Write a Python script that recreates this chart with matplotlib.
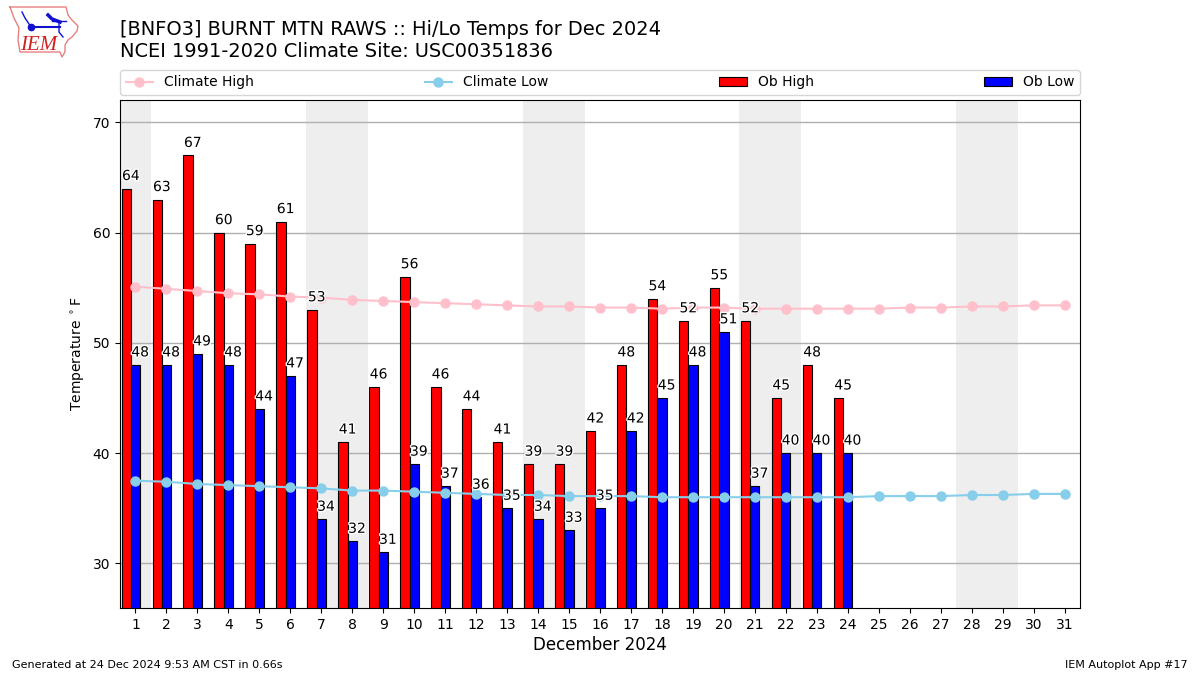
import matplotlib
matplotlib.use("Agg")
import matplotlib.pyplot as plt
import matplotlib.patheffects as pe
import numpy as np

days = list(range(1, 32))
climate_high = [55.1, 54.9, 54.7, 54.5, 54.4, 54.2, 54.1, 53.9, 53.8, 53.7, 53.6, 53.5, 53.4, 53.3, 53.3, 53.2,
                53.2, 53.1, 53.2, 53.2, 53.1, 53.1, 53.1, 53.1, 53.1, 53.2, 53.2, 53.3, 53.3, 53.4, 53.4]
climate_low = [37.5, 37.4, 37.2, 37.1, 37.0, 36.9, 36.8, 36.6, 36.6, 36.5, 36.4, 36.3, 36.2, 36.2, 36.1, 36.1,
               36.1, 36.0, 36.0, 36.0, 36.0, 36.0, 36.0, 36.0, 36.1, 36.1, 36.1, 36.2, 36.2, 36.3, 36.3]
ob_high = [64, 63, 67, 60, 59, 61, 53, 41, 46, 56, 46, 44, 41, 39, 39, 42, 48, 54, 52, 55, 52, 45, 48, 45]
ob_low = [48, 48, 49, 48, 44, 47, 34, 32, 31, 39, 37, 36, 35, 34, 33, 35, 42, 45, 48, 51, 37, 40, 40, 40]
weekend_spans = [(0.5, 1.5), (6.5, 8.5), (13.5, 15.5), (20.5, 22.5), (27.5, 29.5)]

fig = plt.figure(figsize=(12, 6.75), dpi=100)
ax = fig.add_axes([0.1, 1 - 608 / 675, 0.8, 508 / 675])

for a, b in weekend_spans:
    ax.axvspan(a, b, color="#EEEEEE", lw=0, zorder=0)
ax.grid(axis="y", color="#b0b0b0", lw=1, zorder=1)
ax.set_axisbelow(True)

l1, = ax.plot(days, climate_high, color="pink", marker="o", lw=1.5, ms=6.5, label="Climate High", zorder=3)
l2, = ax.plot(days, climate_low, color="skyblue", marker="o", lw=1.5, ms=6.5, label="Climate Low", zorder=3)
ob_days = np.array(days[:len(ob_high)])
b1 = ax.bar(ob_days - 0.3, ob_high, width=0.3, color="red", edgecolor="black", lw=0.8, label="Ob High", zorder=2)
b2 = ax.bar(ob_days, ob_low, width=0.3, color="blue", edgecolor="black", lw=0.8, label="Ob Low", zorder=2)

stroke = [pe.withStroke(linewidth=2, foreground="white")]
for d, v in zip(ob_days, ob_high):
    ax.text(d - 0.15, v + 0.5, str(v), ha="center", va="bottom", fontsize=10, path_effects=stroke, zorder=5)
for d, v in zip(ob_days, ob_low):
    ax.text(d + 0.15, v + 0.5, str(v), ha="center", va="bottom", fontsize=10, path_effects=stroke, zorder=5)

ax.set_xlim(0.5, 31.5)
ax.set_ylim(25.95, 72.03)
ax.set_xticks(days)
ax.set_yticks([30, 40, 50, 60, 70])
ax.tick_params(labelsize=10)
ax.set_xlabel("December 2024", fontsize=12, labelpad=3)
ax.set_ylabel(r"Temperature $^\circ$F", fontsize=10)

ax.legend(handles=[l1, l2, b1, b2], loc="lower left", bbox_to_anchor=(0, 1.01, 1, 0.05),
          ncol=4, mode="expand", borderaxespad=0, fontsize=10)

fig.text(0.1, 1 - 61 / 675, "[BNFO3] BURNT MTN RAWS :: Hi/Lo Temps for Dec 2024\nNCEI 1991-2020 Climate Site: USC00351836",
         fontsize=13.98, ha="left", va="bottom", linespacing=1.2)
fig.text(0.01, 0.0067, "Generated at 24 Dec 2024 9:53 AM CST in 0.66s", fontsize=8, ha="left", va="bottom")
fig.text(0.99, 0.0067, "IEM Autoplot App #17", fontsize=8, ha="right", va="bottom")

# IEM logo drawn as decoration in pixel coordinates
logo = fig.add_axes([0, 1 - 60 / 675, 85 / 1200, 60 / 675])
logo.set_xlim(0, 85)
logo.set_ylim(60, 0)
logo.axis("off")
outline_x = [10, 66, 68, 72, 78, 77, 72, 68, 65, 65, 62, 60, 20, 18, 19, 14, 10]
outline_y = [7, 7, 15, 20, 26, 31, 37, 40, 45, 52, 57, 52, 52, 40, 28, 18, 7]
logo.plot(outline_x, outline_y, color="#e88080", lw=1)
logo.plot([31, 60], [27, 27], color="#1010d0", lw=1.5)
logo.plot([48, 52, 60], [15, 19, 22], color="#1010d0", lw=2.5)
logo.plot([52, 66], [21, 21], color="#1010d0", lw=1)
logo.plot([59, 59, 63], [21, 32, 37], color="#1010d0", lw=1)
logo.plot([22, 25, 31], [12, 18, 27], color="#1010d0", lw=1)
logo.plot([31], [27], "o", color="#1010d0", ms=4.5)
logo.text(20, 45, "IEM", color="#d02020", fontsize=15, family="Liberation Serif", style="italic", va="center")

fig.savefig("out.png", dpi=100)
